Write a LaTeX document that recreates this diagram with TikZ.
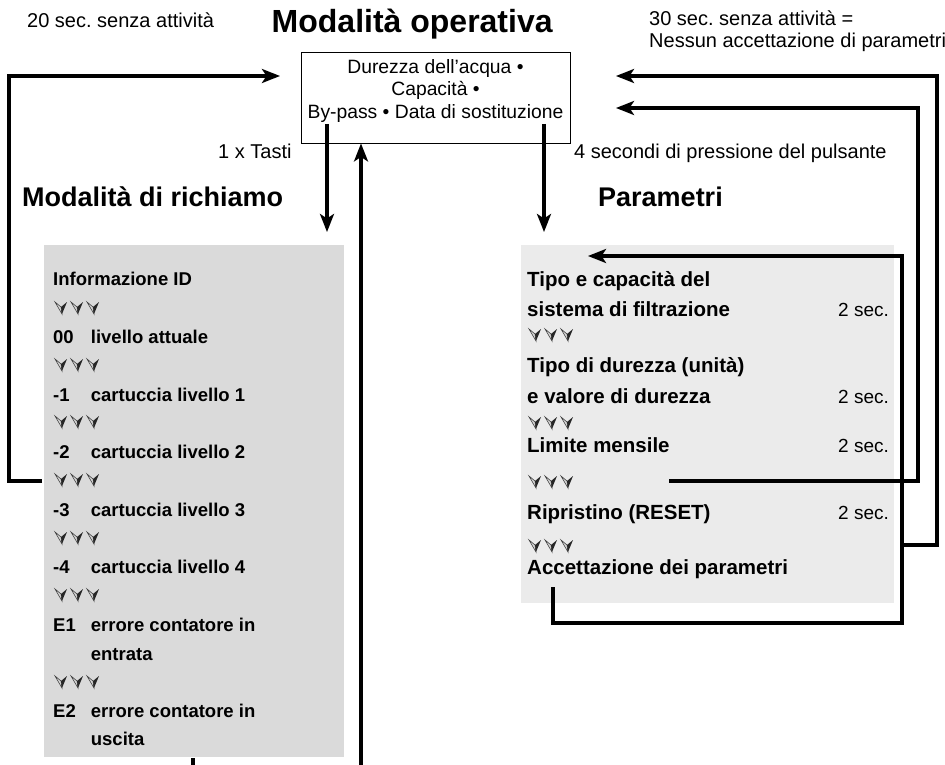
\documentclass[tikz,border=0pt]{standalone}
\usepackage{fontspec}
\setmainfont{Liberation Sans}
\usetikzlibrary{arrows.meta}
\definecolor{lgrey}{HTML}{DADADA}
\definecolor{rgrey}{HTML}{EBEBEB}
\frenchspacing
\begin{document}
\begin{tikzpicture}[x=1pt,y=-1pt,
  reg/.style={font=\fontsize{20}{23}\selectfont, inner sep=0, anchor=base west},
  boxtxt/.style={font=\fontsize{19.3}{23}\selectfont, inner sep=0, anchor=base},
  secs/.style={font=\fontsize{19}{23}\selectfont, inner sep=0, anchor=base west},
  bl/.style={font=\fontsize{18.5}{22}\selectfont\bfseries, inner sep=0, anchor=base west},
  br/.style={font=\fontsize{20.5}{24}\selectfont\bfseries, inner sep=0, anchor=base west},
  head/.style={font=\fontsize{27}{30}\selectfont\bfseries, inner sep=0, anchor=base west},
  conn/.style={line width=3.2pt, -{Stealth[length=18pt,width=14pt,inset=4.5pt]}},
  plain/.style={line width=3.2pt},
  chev/.pic={
    \filldraw[fill=gray!30, draw=black!75, line width=0.6pt] (-6,-6) -- (0,-1) -- (1,6) -- cycle;
    \fill[black!85] (6,-6) -- (0,-1) -- (1,6) -- cycle;
  },
  chevs/.pic={ \pic at (6,0) {chev}; \pic at (22,0) {chev}; \pic at (38,0) {chev}; }
]
\useasboundingbox (0,0) rectangle (945,765);

% grey panels
\node (lbox) [fill=lgrey, inner sep=0, minimum width=300pt, minimum height=512pt, anchor=north west] at (44,245) {};
\node (rbox) [fill=rgrey, inner sep=0, minimum width=373pt, minimum height=358pt, anchor=north west] at (521,245) {};

% top texts
\node (t20) [reg] at (27,28) {20 sec. senza attività};
\node (title) [font=\fontsize{32}{36}\selectfont\bfseries, inner sep=0, anchor=base west] at (271.5,32.3) {Modalità operativa};
\node (t30) [reg] at (649,26) {30 sec. senza attività =};
\node (tnes) [reg] at (649,48) {Nessun accettazione di parametri};

% main box
\node (box) [draw, line width=0.9pt, inner sep=0, minimum width=269pt, minimum height=91pt] at (435.5,97.5) {};
\node (b1) [boxtxt] at (435.5,74) {Durezza dell’acqua •};
\node (b2) [boxtxt] at (435.5,96) {Capacità •};
\node (b3) [boxtxt] at (435.5,118.5) {By-pass • Data di sostituzione};

\node (tasti) [reg, anchor=base east] at (291.7,158) {1 x Tasti};
\node (press) [reg] at (574,159) {4 secondi di pressione del pulsante};

\node (hl) [head] at (22,206) {Modalità di richiamo};
\node (hr) [head] at (598,206) {Parametri};

% left list
\node (li1) [bl] at (53,285) {Informazione ID};
\pic at (55,308) {chevs};
\node (li2a) [bl] at (53,343) {00}; \node (li2b) [bl] at (90.7,343) {livello attuale};
\pic at (55,365) {chevs};
\node (li3a) [bl] at (53,401) {-1}; \node (li3b) [bl] at (90.7,401) {cartuccia livello 1};
\pic at (55,422) {chevs};
\node (li4a) [bl] at (53,458) {-2}; \node (li4b) [bl] at (90.7,458) {cartuccia livello 2};
\pic at (55,480) {chevs};
\node (li5a) [bl] at (53,516) {-3}; \node (li5b) [bl] at (90.7,516) {cartuccia livello 3};
\pic at (55,538) {chevs};
\node (li6a) [bl] at (53,573) {-4}; \node (li6b) [bl] at (90.7,573) {cartuccia livello 4};
\pic at (55,595) {chevs};
\node (li7a) [bl] at (53,631) {E1}; \node (li7b) [bl] at (90.7,631) {errore contatore in};
\node (li7c) [bl] at (90.7,660) {entrata};
\pic at (55,682) {chevs};
\node (li8a) [bl] at (53,717) {E2}; \node (li8b) [bl] at (90.7,717) {errore contatore in};
\node (li8c) [bl] at (90.7,745) {uscita};

% right list
\node (ri1) [br] at (527,286.5) {Tipo e capacità del};
\node (ri2) [br] at (527,316.5) {sistema di filtrazione};
\node (rs1) [secs] at (838,316.5) {2 sec.};
\pic at (529,335) {chevs};
\node (ri3) [br] at (527,372.5) {Tipo di durezza (unità)};
\node (ri4) [br] at (527,403.5) {e valore di durezza};
\node (rs2) [secs] at (838,403.5) {2 sec.};
\pic at (529,423) {chevs};
\node (ri5) [br] at (527,452.5) {Limite mensile};
\node (rs3) [secs] at (838,452.5) {2 sec.};
\pic at (529,482) {chevs};
\node (ri6) [br] at (527,519.5) {Ripristino (RESET)};
\node (rs4) [secs] at (838,519.5) {2 sec.};
\pic at (529,546) {chevs};
\node (ri7) [br] at (527,574.5) {Accettazione dei parametri};

% connector points
\coordinate (dl0) at (327,124);
\coordinate (dl1) at (327,232);
\coordinate (dr0) at (544,124);
\coordinate (dr1) at (544,232);
\coordinate (up0) at (361,765);
\coordinate (sh0) at (193,758);
\coordinate (sh1) at (193,765);
\coordinate (ll0) at (42,481);
\coordinate (ll1) at (9,76);
\coordinate (lltip) at (280,76);
\coordinate (il0) at (553,587);
\coordinate (il1) at (902,623);
\coordinate (iltip) at (588,256);
\coordinate (rp0) at (902,545);
\coordinate (rp1) at (937,76);
\coordinate (rptip) at (616,76);
\coordinate (lm0) at (669,481);
\coordinate (lm1) at (918,108);
\coordinate (lmtip) at (616,108);

% connectors
\draw[conn] (dl0) -- (dl1);
\draw[conn] (dr0) -- (dr1);
\draw[conn] (up0) -- (box.south -| up0);
\draw[plain] (sh0) -- (sh1);
\draw[conn] (ll0) -| (ll1) -- (lltip);
\draw[conn] (il0) |- (il1) |- (iltip);
\draw[conn] (rp0) -| (rp1) -- (rptip);
\draw[conn] (lm0) -| (lm1) -- (lmtip);
\end{tikzpicture}
\end{document}
